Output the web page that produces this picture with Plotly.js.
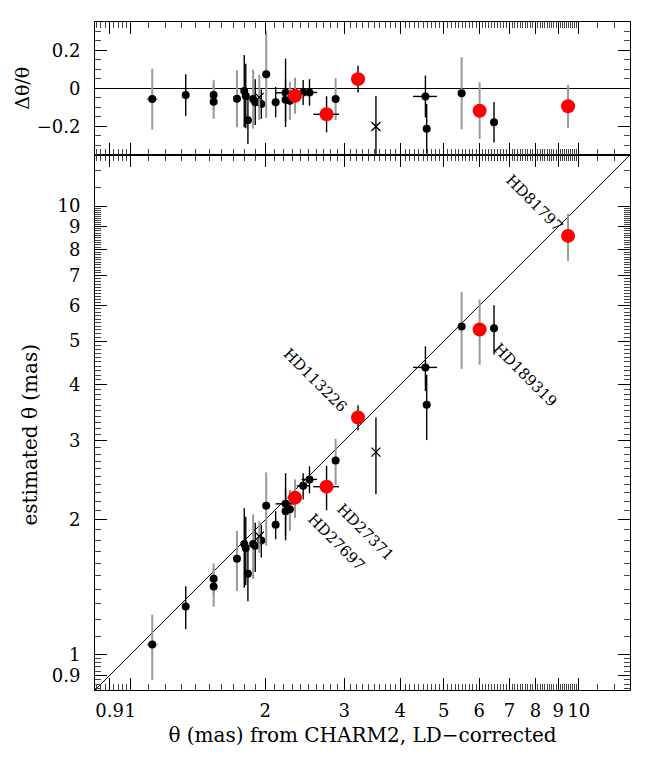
<!DOCTYPE html>
<html>
<head>
<meta charset="utf-8">
<script src="https://cdn.plot.ly/plotly-3.0.1.min.js"></script>
<style>
  html, body { margin: 0; padding: 0; background: #fff; }
  #graphDiv { width: 647px; height: 759px; }
</style>
</head>
<body>
<div id="graphDiv"></div>
<script>
// theta from CHARM2 (LD-corrected), mas
var charmTheta = [1.12, 1.33, 1.535, 1.535, 1.73, 1.796, 1.81, 1.83, 1.88, 1.90,
                  1.94, 1.96, 2.01, 2.11, 2.22, 2.22, 2.27, 2.33, 2.43, 2.51,
                  2.74, 2.87, 3.22, 3.53, 4.55, 4.58, 5.48, 6.01, 6.47, 9.46];
// estimated theta, mas
var estTheta = [1.054, 1.282, 1.478, 1.42, 1.638, 1.766, 1.73, 1.517, 1.766, 1.75,
                1.837, 1.797, 2.15, 1.95, 2.17, 2.09, 2.11, 2.24, 2.38, 2.46,
                2.37, 2.71, 3.38, 2.83, 4.37, 3.61, 5.39, 5.31, 5.34, 8.58];
// relative difference (top panel)
var relDiff = [-0.056, -0.035, -0.035, -0.07, -0.054, -0.014, -0.040, -0.167, -0.056, -0.072,
               -0.047, -0.082, 0.075, -0.072, -0.023, -0.059, -0.065, -0.038, -0.021, -0.021,
               -0.136, -0.056, 0.049, -0.20, -0.042, -0.212, -0.025, -0.117, -0.178, -0.094];
// error bars
var errEst = [0.175, 0.14, 0.12, 0.14, 0.25, 0.355, 0.30, 0.20, 0.29, 0.22,
              0.15, 0.15, 0.40, 0.14, 0.37, 0.25, 0.22, 0.22, 0.16, 0.17,
              0.27, 0.32, 0.22, 0.55, 0.50, 0.60, 1.05, 0.88, 0.67, 1.03];
var errRel = [0.16, 0.11, 0.08, 0.09, 0.15, 0.19, 0.17, 0.125, 0.155, 0.12,
              0.12, 0.077, 0.23, 0.08, 0.18, 0.11, 0.10, 0.095, 0.066, 0.07,
              0.095, 0.11, 0.07, 0.16, 0.11, 0.13, 0.19, 0.15, 0.107, 0.113];
var errCharm = [0.03, 0.02, 0, 0, 0, 0, 0, 0, 0, 0,
                0, 0, 0, 0, 0.11, 0, 0, 0.10, 0.08, 0.10,
                0.18, 0, 0, 0, 0.28, 0, 0, 0, 0, 0];
// marker kind: dot, red (labelled stars), cross
var kind = ['dot','dot','dot','dot','dot','dot','dot','dot','dot','dot',
            'x','dot','dot','dot','dot','dot','dot','red','dot','dot',
            'red','dot','red','x','dot','dot','dot','red','dot','red'];
// error bar colour: g = grey, k = black
var barCol = ['g','k','g','g','g','k','k','k','g','k',
              'g','k','g','k','k','k','g','g','k','k',
              'k','g','k','k','k','k','g','g','k','g'];

var starNames = ['HD81797', 'HD113226', 'HD189319', 'HD27371', 'HD27697'];
var xTicks = [0.9, 1, 2, 3, 4, 5, 6, 7, 8, 9, 10];
var xTickText = ['0.9', '1', '2', '3', '4', '5', '6', '7', '8', '9', '10'];
var relTicks = [-0.2, 0, 0.2];
var relTickText = ['\u22120.2', '0', '0.2'];

var lo = 0.835, hi = 13;
var FONT = 'DejaVu Serif, serif';
var GREY = '#999999';

// minor tick positions on the log axes
var minorTicks = [];
for (var v = 0.84; v < 0.995; v += 0.02) minorTicks.push(+v.toFixed(3));
for (var v = 1.1; v < 10; v += 0.1) {
  var r = +v.toFixed(2);
  if (Math.abs(r - Math.round(r)) > 0.01) minorTicks.push(r);
}
minorTicks.push(11, 12);

function pick(arr, k, c) {
  var out = [];
  for (var i = 0; i < arr.length; i++) {
    if (kind[i] === k && barCol[i] === c) out.push(arr[i]);
  }
  return out;
}

function markerFor(k) {
  if (k === 'red') return {color: '#ff0000', size: 14};
  if (k === 'x') return {symbol: 'x-thin', size: 9, color: '#000', line: {color: '#000', width: 1.3}};
  return {color: '#000', size: 8};
}

var data = [];
var kinds = ['dot', 'x', 'red'];
var cols = ['g', 'k'];
kinds.forEach(function (k) {
  cols.forEach(function (c) {
    var xs = pick(charmTheta, k, c);
    if (xs.length === 0) return;
    var bc = c === 'g' ? GREY : '#000';
    var bw = c === 'g' ? 2 : 1.4;
    data.push({
      x: xs, y: pick(estTheta, k, c),
      type: 'scatter', mode: 'markers', xaxis: 'x', yaxis: 'y',
      marker: markerFor(k), showlegend: false, hoverinfo: 'skip',
      error_y: {type: 'data', array: pick(errEst, k, c), color: bc, thickness: bw, width: 0},
      error_x: {type: 'data', array: pick(errCharm, k, c), color: bc, thickness: bw, width: 0}
    });
    data.push({
      x: xs, y: pick(relDiff, k, c),
      type: 'scatter', mode: 'markers', xaxis: 'x2', yaxis: 'y2',
      marker: markerFor(k), showlegend: false, hoverinfo: 'skip',
      error_y: {type: 'data', array: pick(errRel, k, c), color: bc, thickness: bw, width: 0},
      error_x: {type: 'data', array: pick(errCharm, k, c), color: bc, thickness: bw, width: 0}
    });
  });
});

// one-to-one line
data.unshift({
  x: [lo, hi], y: [lo, hi], type: 'scatter', mode: 'lines',
  xaxis: 'x', yaxis: 'y', line: {color: '#000', width: 1},
  showlegend: false, hoverinfo: 'skip'
});

var logRange = [Math.log10(lo), Math.log10(hi)];
var tickFont = {family: FONT, size: 18, color: '#000'};

var xBase = {
  type: 'log', range: logRange, tickmode: 'array', tickvals: xTicks, ticktext: xTickText,
  tickangle: 0,
  ticks: 'inside', ticklen: 12, tickwidth: 1, tickcolor: '#000',
  showline: true, linecolor: '#000', linewidth: 1, mirror: 'ticks',
  showgrid: false, zeroline: false, tickfont: tickFont,
  minor: {tickmode: 'array', tickvals: minorTicks, ticks: 'inside', ticklen: 6, tickcolor: '#444', tickwidth: 1, showgrid: false}
};

var layout = {
  width: 647, height: 759,
  margin: {l: 95, r: 17, t: 22, b: 69},
  paper_bgcolor: '#fff', plot_bgcolor: '#fff',
  font: {family: FONT, color: '#000'},
  showlegend: false,
  xaxis: Object.assign({}, xBase, {
    anchor: 'y', domain: [0, 1], ticklabelstandoff: 4,
    title: {text: '\u03b8 (mas) from CHARM2, LD\u2212corrected', font: {family: FONT, size: 20}, standoff: 8}
  }),
  xaxis2: Object.assign({}, xBase, {anchor: 'y2', domain: [0, 1], matches: 'x', showticklabels: false}),
  yaxis: Object.assign({}, xBase, {anchor: 'x', domain: [0, 0.801], ticklabelstandoff: 10}),
  yaxis2: {
    anchor: 'x2', domain: [0.801, 1], range: [-0.35, 0.35],
    tickmode: 'array', tickvals: relTicks, ticktext: relTickText, tickangle: 0,
    ticks: 'inside', ticklen: 12, tickwidth: 1, tickcolor: '#000',
    showline: true, linecolor: '#000', linewidth: 1, mirror: 'ticks',
    showgrid: false, zeroline: true, zerolinecolor: '#000', zerolinewidth: 1,
    tickfont: tickFont, ticklabelstandoff: 10,
    minor: {dtick: 0.05, ticks: 'inside', ticklen: 6, tickcolor: '#444', tickwidth: 1, showgrid: false}
  },
  annotations: [
    {text: 'estimated \u03b8 (mas)', xref: 'paper', yref: 'paper', x: -0.122, y: 0.382,
     textangle: -90, showarrow: false, font: {family: FONT, size: 20}, xanchor: 'center', yanchor: 'middle'},
    {text: '\u0394\u03b8/\u03b8', xref: 'paper', yref: 'paper', x: -0.137, y: 0.901,
     textangle: -90, showarrow: false, font: {family: FONT, size: 19}, xanchor: 'center', yanchor: 'middle'}
  ]
};

var labelPos = [[0.8206, 0.729], [0.411, 0.464], [0.804, 0.4716], [0.5047, 0.2365], [0.4505, 0.2216]];
starNames.forEach(function (name, i) {
  layout.annotations.push({
    text: name, xref: 'paper', yref: 'paper', x: labelPos[i][0], y: labelPos[i][1],
    textangle: 45, showarrow: false, font: {family: FONT, size: 15, color: '#000'},
    xanchor: 'center', yanchor: 'middle'
  });
});

Plotly.newPlot('graphDiv', data, layout, {displayModeBar: false, staticPlot: true});
</script>
</body>
</html>
